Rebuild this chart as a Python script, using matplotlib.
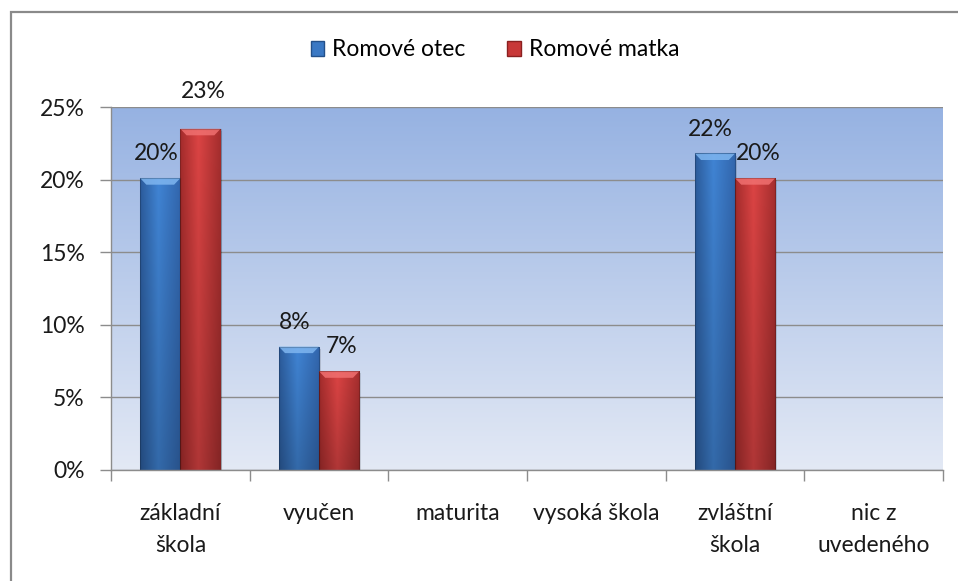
import numpy as np
import matplotlib
matplotlib.use("Agg")
import matplotlib.pyplot as plt
from matplotlib.patches import Rectangle, Patch
from matplotlib.colors import to_rgb

plt.rcParams['font.family'] = ['Lato', 'DejaVu Sans']

categories = ["základní\nškola", "vyučen", "maturita", "vysoká škola", "zvláštní\nškola", "nic z\nuvedeného"]
series_names = ["Romové otec", "Romové matka"]
otec = [20.1, 8.5, 0.0, 0.0, 21.8, 0.0]
matka = [23.5, 6.8, 0.0, 0.0, 20.1, 0.0]
otec_labels = ["20%", "8%", "", "", "22%", ""]
matka_labels = ["23%", "7%", "", "", "20%", ""]
yticks = [0, 5, 10, 15, 20, 25]
ytick_labels = ["0%", "5%", "10%", "15%", "20%", "25%"]

FS = 16.5
W, H = 958, 581
fig = plt.figure(figsize=(W / 100, H / 100), dpi=100)
fig.patch.set_facecolor("white")

# outer chart border
fig.add_artist(Rectangle((11 / W, -0.2), 2.0, (H - 12) / H + 0.2, transform=fig.transFigure,
                         fill=False, edgecolor="#8a8a8a", lw=1.6))

ax = fig.add_axes([111 / W, (H - 470) / H, (943 - 111) / W, (470 - 107) / H])

n = len(categories)
xlim = (-0.5, n - 0.5)
ylim = (0, 25)

# background gradient
top = np.array(to_rgb("#96b2e2"))
bot = np.array(to_rgb("#e3e9f5"))
t = np.linspace(0, 1, 256)[:, None]
bg = (top * (1 - t) + bot * t)[:, None, :]
ax.imshow(bg, extent=[xlim[0], xlim[1], ylim[0], ylim[1]], aspect="auto", zorder=0,
          origin="upper", interpolation="bilinear")


def bar_gradient(left, mid, right):
    cols = np.linspace(0, 1, 64)[:, None]
    L, M, R = map(lambda c: np.array(to_rgb(c)), (left, mid, right))
    row = np.where(cols < 0.45, L + (M - L) * (cols / 0.45),
                   M + (R - M) * ((cols - 0.45) / 0.55))
    rows = np.linspace(0, 1, 128)[:, None, None]
    img = row[None, :, :] * (1 - 0.2 * rows)
    return np.clip(img, 0, 1)


blue_img = bar_gradient("#2c5c9c", "#4084d4", "#3266ad")
red_img = bar_gradient("#a42c2c", "#dc4444", "#a52e2e")
blue_hi = "#7fb6f0"
red_hi = "#f07070"

bw = 0.29
x = np.arange(n)
for vals, img, hi, off in [(otec, blue_img, blue_hi, -bw / 2), (matka, red_img, red_hi, bw / 2)]:
    bars = ax.bar(x + off, vals, width=bw, color="none", edgecolor="none", zorder=3)
    for b, v in zip(bars, vals):
        if v <= 0:
            continue
        x0 = b.get_x()
        x1 = x0 + b.get_width()
        ax.add_patch(Rectangle((x0 + 0.012, 0), b.get_width(), v - 0.15, facecolor="black",
                               alpha=0.12, edgecolor="none", zorder=2.5))
        im = ax.imshow(img, extent=[x0, x1, 0, v], aspect="auto", zorder=3, origin="upper",
                       interpolation="bilinear")
        im.set_clip_path(b)
        bev = 0.45
        inset = 0.045
        ax.fill([x0, x1, x1 - inset, x0 + inset], [v, v, v - bev, v - bev], color=hi,
                alpha=0.85, zorder=3.5, lw=0)
        ax.add_patch(Rectangle((x0, 0), b.get_width(), v, fill=False, edgecolor="#00000033",
                               lw=0.8, zorder=3.6))

label_font = dict(fontsize=FS, color="#1a1a1a", ha="center", va="bottom")
for i in range(n):
    if otec_labels[i]:
        ax.annotate(otec_labels[i], (x[i] - bw / 2, otec[i]), xytext=(-3, 10),
                    textcoords="offset points", **label_font)
    if matka_labels[i]:
        extra = 9 if matka[i] > 23 else 0
        ax.annotate(matka_labels[i], (x[i] + bw / 2, matka[i]), xytext=(2, 10 + extra),
                    textcoords="offset points", annotation_clip=False, **label_font)

ax.set_xlim(*xlim)
ax.set_ylim(*ylim)
ax.set_yticks(yticks)
ax.set_yticklabels(ytick_labels)
ax.yaxis.grid(True, color="#8c8c8c", lw=1.0)
for gl in ax.get_ygridlines():
    gl.set_zorder(1)

ax.set_xticks(np.arange(-0.5, n, 1.0))
ax.set_xticklabels([])
ax.set_xticks(x, minor=True)
ax.set_xticklabels(categories, minor=True, fontsize=FS, linespacing=1.65, color="#1a1a1a")
ax.tick_params(axis="x", which="minor", length=0, pad=24)
ax.tick_params(axis="x", which="major", length=8, color="#8c8c8c", width=1)
ax.tick_params(axis="y", length=8, color="#8c8c8c", width=1, labelsize=FS, pad=11,
               labelcolor="#1a1a1a")

for s in ["top", "right"]:
    ax.spines[s].set_visible(False)
for s in ["left", "bottom"]:
    ax.spines[s].set_color("#8c8c8c")
    ax.spines[s].set_linewidth(1.0)
    ax.spines[s].set_zorder(4)

handles = [Patch(facecolor="#3a78c4", edgecolor="#23508a"),
           Patch(facecolor="#c83838", edgecolor="#8a2020")]
fig.legend(handles, series_names, loc="center", bbox_to_anchor=(495 / W, 1 - 50 / H),
           ncol=2, frameon=False, fontsize=FS, handlelength=0.6, handleheight=0.6,
           handletextpad=0.35, columnspacing=1.8)

fig.savefig("out.png", dpi=100, facecolor="white")
